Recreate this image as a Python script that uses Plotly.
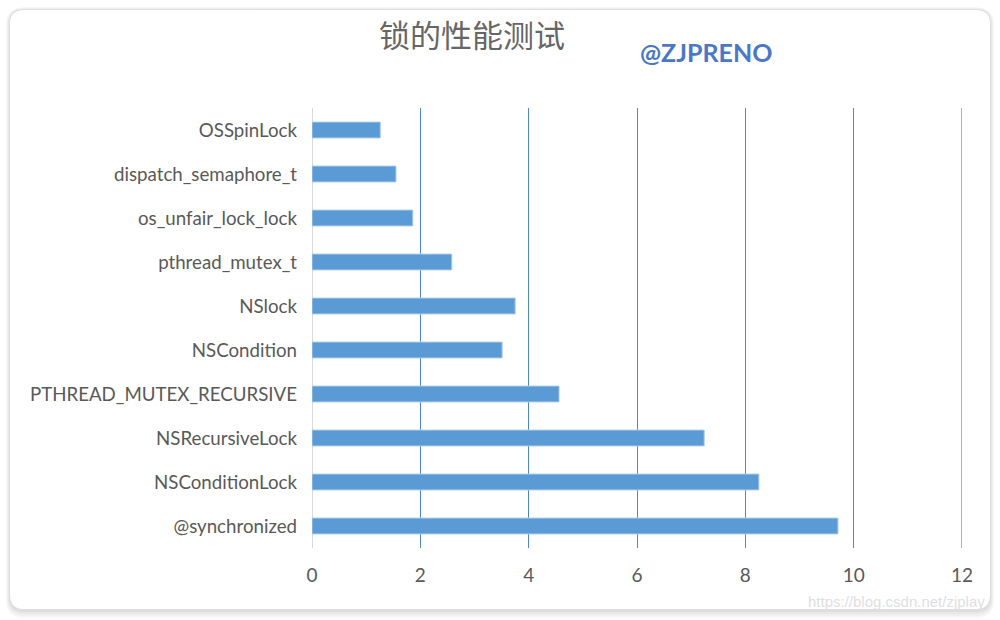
import plotly.graph_objects as go

categories = ["@synchronized", "NSConditionLock", "NSRecursiveLock", "PTHREAD_MUTEX_RECURSIVE",
              "NSCondition", "NSlock", "pthread_mutex_t", "os_unfair_lock_lock",
              "dispatch_semaphore_t", "OSSpinLock"]
values = [9.71, 8.25, 7.24, 4.56, 3.51, 3.75, 2.58, 1.86, 1.55, 1.26]
tick_vals = [0, 2, 4, 6, 8, 10, 12]

fig = go.Figure()
fig.add_trace(go.Bar(
    x=values, y=categories, orientation="h", width=0.36,
    marker=dict(color="#5b9bd5", line=dict(color="#a9c8e8", width=1)),
    hoverinfo="x+y",
))

W, H = 1000, 620
ml, mr, mt, mb = 312, 38, 108, 72
pw, ph = W - ml - mr, H - mt - mb

def px(x):
    return (x - ml) / pw

def py(y):
    return (H - mb - y) / ph

def rrect_paper(x0, y0, x1, y1, r):
    pts = lambda x, y: f"{px(x)},{py(y)}"
    return (f"M{pts(x0+r,y0)} L{pts(x1-r,y0)} Q{pts(x1,y0)} {pts(x1,y0+r)} L{pts(x1,y1-r)} "
            f"Q{pts(x1,y1)} {pts(x1-r,y1)} L{pts(x0+r,y1)} Q{pts(x0,y1)} {pts(x0,y1-r)} "
            f"L{pts(x0,y0+r)} Q{pts(x0,y0)} {pts(x0+r,y0)} Z")

shapes = []
for d, col in [(8, "#f7f7f7"), (6, "#f0f0f0"), (4, "#e8e8e8"), (2, "#dedede")]:
    shapes.append(dict(type="path", xref="paper", yref="paper", layer="below",
                       path=rrect_paper(10 - d/2, 10 - d/3, 990 + d/2, 610 + d, 14 + d/2),
                       fillcolor=col, line=dict(width=0)))
shapes.append(dict(type="path", xref="paper", yref="paper", layer="below",
                   path=rrect_paper(10, 10, 990, 609, 14),
                   fillcolor="white", line=dict(width=0)))
# zero axis line (grey)
shapes.append(dict(type="line", xref="x", yref="paper", x0=0, x1=0, y0=0, y1=1,
                   line=dict(color="#d9d9d9", width=2), layer="below"))
# last gridline at the range end
shapes.append(dict(type="line", xref="x", yref="paper", x0=tick_vals[-1], x1=tick_vals[-1],
                   y0=0, y1=1, line=dict(color="#6f9fd6", width=1.5), layer="below"))

fig.update_layout(
    width=W, height=H,
    margin=dict(l=ml, r=mr, t=mt, b=mb),
    paper_bgcolor="white", plot_bgcolor="rgba(0,0,0,0)",
    showlegend=False, bargap=0.64,
    font=dict(family="Lato, Open Sans, sans-serif", color="#595959", size=19),
    shapes=shapes,
    xaxis=dict(range=[0, 12], tickvals=tick_vals, showgrid=True, gridcolor="#4f87c6",
               gridwidth=1, zeroline=False, showline=False, ticks="",
               tickfont=dict(size=19, color="#595959"), ticklabelstandoff=14),
    yaxis=dict(categoryorder="array", categoryarray=categories, showgrid=False,
               zeroline=False, showline=False, ticks="", ticklabelstandoff=14,
               tickfont=dict(size=18.7, color="#595959")),
    annotations=[
        dict(text="锁的性能测试", xref="paper", yref="paper", x=px(472), y=py(33),
             showarrow=False, font=dict(family="Noto Sans CJK SC", size=31, color="#666666"),
             xanchor="center", yanchor="middle"),
        dict(text="<b>@ZJPRENO</b>", xref="paper", yref="paper", x=px(706), y=py(52),
             showarrow=False, font=dict(family="Lato", size=25, color="#4a78c4"),
             xanchor="center", yanchor="middle"),
        dict(text="https://blog.csdn.net/zjplay", xref="paper", yref="paper", x=px(987), y=py(601),
             showarrow=False, font=dict(family="Liberation Sans", size=15, color="#e0e0e0"),
             xanchor="right", yanchor="middle"),
    ],
)

fig.write_html("out.html", config={"displayModeBar": False},
               post_script="document.body.style.margin='0';document.body.style.overflow='hidden';")
